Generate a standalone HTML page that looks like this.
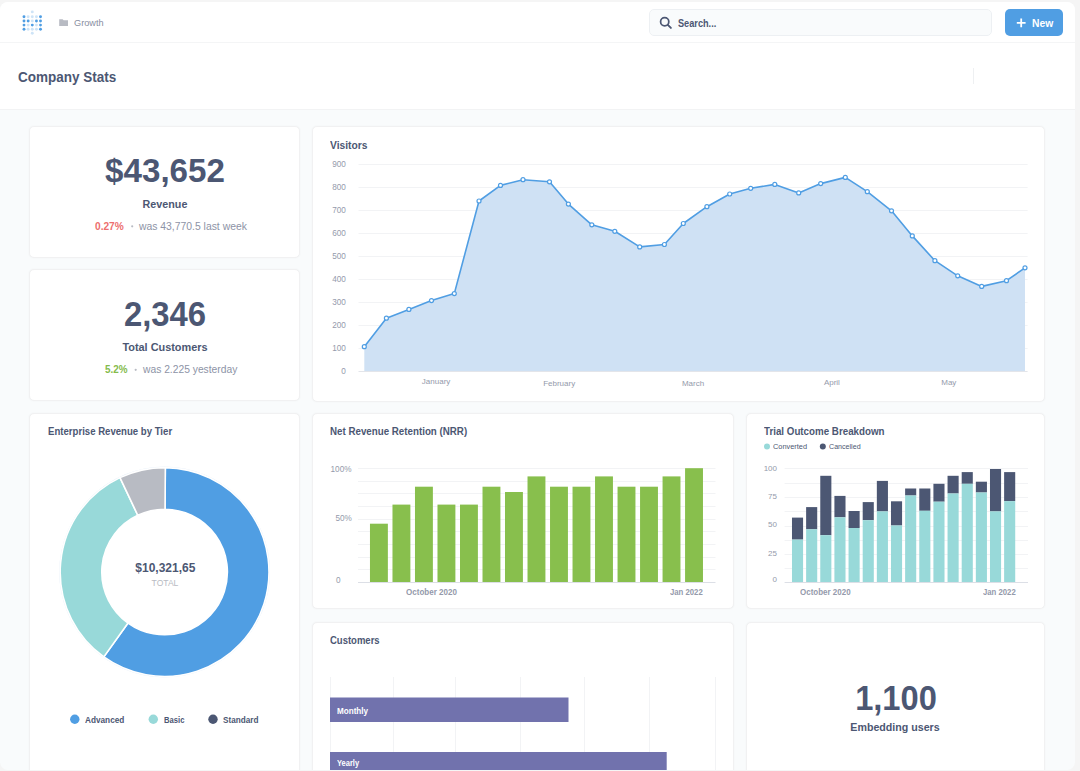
<!DOCTYPE html>
<html><head><meta charset="utf-8"><style>
html,body{margin:0;padding:0;}
body{width:1080px;height:771px;background:#f5f5f5;position:relative;overflow:hidden;font-family:"Liberation Sans",sans-serif;}
.win{position:absolute;left:0;top:2px;width:1075px;height:768px;border-radius:8px;overflow:hidden;background:#f9fbfc;}
.inner{position:absolute;left:0;top:-2px;width:1080px;height:771px;}
.t{position:absolute;line-height:1;white-space:nowrap;}
.card{position:absolute;box-sizing:border-box;background:#fff;border:1px solid #f1f1f2;border-radius:5px;box-shadow:0 0 2px rgba(0,0,0,0.045);}
.ov{position:absolute;left:0;top:0;}
</style></head><body>
<div class="win"><div class="inner">
<div style="position:absolute;left:0;top:0;width:1080px;height:42px;background:#fff;border-bottom:1px solid #f4f5f6"></div><div style="position:absolute;left:0;top:43px;width:1080px;height:66px;background:#fff;border-bottom:1px solid #f2f3f4"></div><div style="position:absolute;left:649px;top:9px;width:341px;height:25px;background:#f9fbfc;border:1px solid #edf0f3;border-radius:5px"></div><div style="position:absolute;left:1005px;top:9px;width:58px;height:27px;background:#509ee3;border-radius:5px"></div><div style="position:absolute;left:973px;top:68px;width:1px;height:16px;background:#eef0f2"></div><div class="card" style="left:29px;top:126px;width:271px;height:132px"></div><div class="card" style="left:29px;top:269px;width:271px;height:132px"></div><div class="card" style="left:312px;top:126px;width:733px;height:276px"></div><div class="card" style="left:29px;top:413px;width:271px;height:400px"></div><div class="card" style="left:312px;top:413px;width:422px;height:196px"></div><div class="card" style="left:746px;top:413px;width:299px;height:196px"></div><div class="card" style="left:312px;top:622px;width:422px;height:200px"></div><div class="card" style="left:746px;top:622px;width:299px;height:200px"></div>
<svg class="ov" width="1080" height="771"><circle cx="24.0" cy="16.75" r="1.45" fill="#509ee3" fill-opacity="1"/><circle cx="28.15" cy="16.75" r="1.45" fill="#509ee3" fill-opacity="0.28"/><circle cx="32.3" cy="16.75" r="1.45" fill="#509ee3" fill-opacity="0.28"/><circle cx="36.45" cy="16.75" r="1.45" fill="#509ee3" fill-opacity="0.28"/><circle cx="40.5" cy="16.75" r="1.45" fill="#509ee3" fill-opacity="1"/><circle cx="24.0" cy="20.95" r="1.45" fill="#509ee3" fill-opacity="1"/><circle cx="28.15" cy="20.95" r="1.45" fill="#509ee3" fill-opacity="1"/><circle cx="32.3" cy="20.95" r="1.45" fill="#509ee3" fill-opacity="0.28"/><circle cx="36.45" cy="20.95" r="1.45" fill="#509ee3" fill-opacity="1"/><circle cx="40.5" cy="20.95" r="1.45" fill="#509ee3" fill-opacity="1"/><circle cx="24.0" cy="25.1" r="1.45" fill="#509ee3" fill-opacity="1"/><circle cx="28.15" cy="25.1" r="1.45" fill="#509ee3" fill-opacity="0.28"/><circle cx="32.3" cy="25.1" r="1.45" fill="#509ee3" fill-opacity="1"/><circle cx="36.45" cy="25.1" r="1.45" fill="#509ee3" fill-opacity="0.28"/><circle cx="40.5" cy="25.1" r="1.45" fill="#509ee3" fill-opacity="1"/><circle cx="24.0" cy="29.2" r="1.45" fill="#509ee3" fill-opacity="1"/><circle cx="28.15" cy="29.2" r="1.45" fill="#509ee3" fill-opacity="0.28"/><circle cx="32.3" cy="29.2" r="1.45" fill="#509ee3" fill-opacity="0.28"/><circle cx="36.45" cy="29.2" r="1.45" fill="#509ee3" fill-opacity="0.28"/><circle cx="40.5" cy="29.2" r="1.45" fill="#509ee3" fill-opacity="1"/><circle cx="32.3" cy="11.9" r="1.45" fill="#509ee3" fill-opacity="0.28"/><circle cx="32.3" cy="33.3" r="1.45" fill="#509ee3" fill-opacity="0.28"/><path d="M59.2 19.2 h3.4 l1 1.1 h4.4 v5.6 h-8.8 z" fill="#b8bbc3"/><circle cx="664.7" cy="21.7" r="4.1" fill="none" stroke="#4c5773" stroke-width="1.75"/><line x1="667.8" y1="24.8" x2="670.9" y2="27.9" stroke="#4c5773" stroke-width="1.9" stroke-linecap="round"/><line x1="1021.2" y1="18.4" x2="1021.2" y2="27.2" stroke="#fff" stroke-width="1.8"/><line x1="1016.8" y1="22.8" x2="1025.6" y2="22.8" stroke="#fff" stroke-width="1.8"/></svg>
<svg class="ov" width="1080" height="771"><circle cx="132.2" cy="226.3" r="1.1" fill="#b8bbc3"/><circle cx="135.7" cy="369.8" r="1.1" fill="#b8bbc3"/><line x1="358.5" y1="164.50" x2="1027.6" y2="164.50" stroke="#f2f3f5" stroke-width="1"/><line x1="358.5" y1="187.50" x2="1027.6" y2="187.50" stroke="#f2f3f5" stroke-width="1"/><line x1="358.5" y1="210.50" x2="1027.6" y2="210.50" stroke="#f2f3f5" stroke-width="1"/><line x1="358.5" y1="233.50" x2="1027.6" y2="233.50" stroke="#f2f3f5" stroke-width="1"/><line x1="358.5" y1="256.50" x2="1027.6" y2="256.50" stroke="#f2f3f5" stroke-width="1"/><line x1="358.5" y1="279.50" x2="1027.6" y2="279.50" stroke="#f2f3f5" stroke-width="1"/><line x1="358.5" y1="302.50" x2="1027.6" y2="302.50" stroke="#f2f3f5" stroke-width="1"/><line x1="358.5" y1="325.50" x2="1027.6" y2="325.50" stroke="#f2f3f5" stroke-width="1"/><line x1="358.5" y1="348.50" x2="1027.6" y2="348.50" stroke="#f2f3f5" stroke-width="1"/><path d="M364.3 346.7 L386.4 318.2 L408.9 309.4 L431.5 300.6 L454.3 293.6 L479.0 201.0 L500.5 185.4 L523.0 179.7 L549.5 181.8 L568.4 204.1 L591.8 224.8 L614.8 231.3 L639.7 246.9 L664.4 244.5 L683.3 223.5 L706.9 206.7 L729.7 194.0 L750.7 188.3 L774.8 184.4 L798.7 192.9 L820.7 183.6 L845.3 177.4 L867.3 191.7 L891.5 210.8 L912.3 235.9 L934.9 260.7 L957.7 275.8 L981.7 286.4 L1006.5 280.7 L1025.0 267.8 L1025.0 371.5 L364.3 371.5 Z" fill="#cfe1f4"/><line x1="358.5" y1="371.5" x2="1027.6" y2="371.5" stroke="#e3e5ea" stroke-width="1"/><path d="M364.3 346.7 L386.4 318.2 L408.9 309.4 L431.5 300.6 L454.3 293.6 L479.0 201.0 L500.5 185.4 L523.0 179.7 L549.5 181.8 L568.4 204.1 L591.8 224.8 L614.8 231.3 L639.7 246.9 L664.4 244.5 L683.3 223.5 L706.9 206.7 L729.7 194.0 L750.7 188.3 L774.8 184.4 L798.7 192.9 L820.7 183.6 L845.3 177.4 L867.3 191.7 L891.5 210.8 L912.3 235.9 L934.9 260.7 L957.7 275.8 L981.7 286.4 L1006.5 280.7 L1025.0 267.8" fill="none" stroke="#509ee3" stroke-width="1.6" stroke-linejoin="round"/><circle cx="364.3" cy="346.7" r="2.0" fill="#fff" stroke="#509ee3" stroke-width="1.2"/><circle cx="386.4" cy="318.2" r="2.0" fill="#fff" stroke="#509ee3" stroke-width="1.2"/><circle cx="408.9" cy="309.4" r="2.0" fill="#fff" stroke="#509ee3" stroke-width="1.2"/><circle cx="431.5" cy="300.6" r="2.0" fill="#fff" stroke="#509ee3" stroke-width="1.2"/><circle cx="454.3" cy="293.6" r="2.0" fill="#fff" stroke="#509ee3" stroke-width="1.2"/><circle cx="479.0" cy="201.0" r="2.0" fill="#fff" stroke="#509ee3" stroke-width="1.2"/><circle cx="500.5" cy="185.4" r="2.0" fill="#fff" stroke="#509ee3" stroke-width="1.2"/><circle cx="523.0" cy="179.7" r="2.0" fill="#fff" stroke="#509ee3" stroke-width="1.2"/><circle cx="549.5" cy="181.8" r="2.0" fill="#fff" stroke="#509ee3" stroke-width="1.2"/><circle cx="568.4" cy="204.1" r="2.0" fill="#fff" stroke="#509ee3" stroke-width="1.2"/><circle cx="591.8" cy="224.8" r="2.0" fill="#fff" stroke="#509ee3" stroke-width="1.2"/><circle cx="614.8" cy="231.3" r="2.0" fill="#fff" stroke="#509ee3" stroke-width="1.2"/><circle cx="639.7" cy="246.9" r="2.0" fill="#fff" stroke="#509ee3" stroke-width="1.2"/><circle cx="664.4" cy="244.5" r="2.0" fill="#fff" stroke="#509ee3" stroke-width="1.2"/><circle cx="683.3" cy="223.5" r="2.0" fill="#fff" stroke="#509ee3" stroke-width="1.2"/><circle cx="706.9" cy="206.7" r="2.0" fill="#fff" stroke="#509ee3" stroke-width="1.2"/><circle cx="729.7" cy="194.0" r="2.0" fill="#fff" stroke="#509ee3" stroke-width="1.2"/><circle cx="750.7" cy="188.3" r="2.0" fill="#fff" stroke="#509ee3" stroke-width="1.2"/><circle cx="774.8" cy="184.4" r="2.0" fill="#fff" stroke="#509ee3" stroke-width="1.2"/><circle cx="798.7" cy="192.9" r="2.0" fill="#fff" stroke="#509ee3" stroke-width="1.2"/><circle cx="820.7" cy="183.6" r="2.0" fill="#fff" stroke="#509ee3" stroke-width="1.2"/><circle cx="845.3" cy="177.4" r="2.0" fill="#fff" stroke="#509ee3" stroke-width="1.2"/><circle cx="867.3" cy="191.7" r="2.0" fill="#fff" stroke="#509ee3" stroke-width="1.2"/><circle cx="891.5" cy="210.8" r="2.0" fill="#fff" stroke="#509ee3" stroke-width="1.2"/><circle cx="912.3" cy="235.9" r="2.0" fill="#fff" stroke="#509ee3" stroke-width="1.2"/><circle cx="934.9" cy="260.7" r="2.0" fill="#fff" stroke="#509ee3" stroke-width="1.2"/><circle cx="957.7" cy="275.8" r="2.0" fill="#fff" stroke="#509ee3" stroke-width="1.2"/><circle cx="981.7" cy="286.4" r="2.0" fill="#fff" stroke="#509ee3" stroke-width="1.2"/><circle cx="1006.5" cy="280.7" r="2.0" fill="#fff" stroke="#509ee3" stroke-width="1.2"/><circle cx="1025.0" cy="267.8" r="2.0" fill="#fff" stroke="#509ee3" stroke-width="1.2"/><circle cx="164.6" cy="572.0" r="104.9" fill="none" stroke="#e4eef9" stroke-width="1"/><path d="M165.33 467.60 A104.4 104.4 0 1 1 103.83 656.89 L128.04 623.06 A62.8 62.8 0 1 0 165.04 509.20 Z" fill="#509ee3" stroke="#fff" stroke-width="1.6" stroke-linejoin="round"/><path d="M103.83 656.89 A104.4 104.4 0 0 1 119.98 477.61 L137.76 515.22 A62.8 62.8 0 0 0 128.04 623.06 Z" fill="#98d9d9" stroke="#fff" stroke-width="1.6" stroke-linejoin="round"/><path d="M119.98 477.61 A104.4 104.4 0 0 1 165.33 467.60 L165.04 509.20 A62.8 62.8 0 0 0 137.76 515.22 Z" fill="#b8bbc3" stroke="#fff" stroke-width="1.6" stroke-linejoin="round"/><circle cx="74.8" cy="719.2" r="4.7" fill="#509ee3"/><circle cx="153.3" cy="719.2" r="4.7" fill="#98d9d9"/><circle cx="213.0" cy="719.2" r="4.7" fill="#4c5773"/><line x1="358" y1="468.50" x2="715.5" y2="468.50" stroke="#f2f3f5" stroke-width="1"/><line x1="358" y1="481.50" x2="715.5" y2="481.50" stroke="#f2f3f5" stroke-width="1"/><line x1="358" y1="493.50" x2="715.5" y2="493.50" stroke="#f2f3f5" stroke-width="1"/><line x1="358" y1="506.50" x2="715.5" y2="506.50" stroke="#f2f3f5" stroke-width="1"/><line x1="358" y1="519.50" x2="715.5" y2="519.50" stroke="#f2f3f5" stroke-width="1"/><line x1="358" y1="531.50" x2="715.5" y2="531.50" stroke="#f2f3f5" stroke-width="1"/><line x1="358" y1="544.50" x2="715.5" y2="544.50" stroke="#f2f3f5" stroke-width="1"/><line x1="358" y1="557.50" x2="715.5" y2="557.50" stroke="#f2f3f5" stroke-width="1"/><line x1="358" y1="569.50" x2="715.5" y2="569.50" stroke="#f2f3f5" stroke-width="1"/><line x1="358" y1="582.5" x2="715.5" y2="582.5" stroke="#dcdfe6" stroke-width="1"/><rect x="369.97" y="523.7" width="17.9" height="58.30" fill="#88bf4d"/><rect x="392.48" y="504.6" width="17.9" height="77.40" fill="#88bf4d"/><rect x="414.98" y="486.7" width="17.9" height="95.30" fill="#88bf4d"/><rect x="437.49" y="504.6" width="17.9" height="77.40" fill="#88bf4d"/><rect x="460.00" y="504.6" width="17.9" height="77.40" fill="#88bf4d"/><rect x="482.51" y="486.7" width="17.9" height="95.30" fill="#88bf4d"/><rect x="505.01" y="492.0" width="17.9" height="90.00" fill="#88bf4d"/><rect x="527.52" y="476.4" width="17.9" height="105.60" fill="#88bf4d"/><rect x="550.03" y="486.7" width="17.9" height="95.30" fill="#88bf4d"/><rect x="572.53" y="486.7" width="17.9" height="95.30" fill="#88bf4d"/><rect x="595.04" y="476.4" width="17.9" height="105.60" fill="#88bf4d"/><rect x="617.55" y="486.7" width="17.9" height="95.30" fill="#88bf4d"/><rect x="640.05" y="486.7" width="17.9" height="95.30" fill="#88bf4d"/><rect x="662.56" y="476.4" width="17.9" height="105.60" fill="#88bf4d"/><rect x="685.07" y="468.2" width="17.9" height="113.80" fill="#88bf4d"/><circle cx="767" cy="446.4" r="3" fill="#98d9d9"/><circle cx="822.8" cy="446.4" r="3" fill="#4c5773"/><line x1="784.6" y1="468.50" x2="1028" y2="468.50" stroke="#f2f3f5" stroke-width="1"/><line x1="784.6" y1="483.50" x2="1028" y2="483.50" stroke="#f2f3f5" stroke-width="1"/><line x1="784.6" y1="497.50" x2="1028" y2="497.50" stroke="#f2f3f5" stroke-width="1"/><line x1="784.6" y1="511.50" x2="1028" y2="511.50" stroke="#f2f3f5" stroke-width="1"/><line x1="784.6" y1="526.50" x2="1028" y2="526.50" stroke="#f2f3f5" stroke-width="1"/><line x1="784.6" y1="540.50" x2="1028" y2="540.50" stroke="#f2f3f5" stroke-width="1"/><line x1="784.6" y1="554.50" x2="1028" y2="554.50" stroke="#f2f3f5" stroke-width="1"/><line x1="784.6" y1="568.50" x2="1028" y2="568.50" stroke="#f2f3f5" stroke-width="1"/><line x1="784.6" y1="582.5" x2="1028" y2="582.5" stroke="#dcdfe6" stroke-width="1"/><rect x="791.98" y="517.6" width="11.1" height="22.00" fill="#4c5773"/><rect x="791.98" y="539.6" width="11.1" height="42.40" fill="#98d9d9"/><rect x="806.12" y="507.1" width="11.1" height="22.20" fill="#4c5773"/><rect x="806.12" y="529.3" width="11.1" height="52.70" fill="#98d9d9"/><rect x="820.27" y="475.8" width="11.1" height="59.40" fill="#4c5773"/><rect x="820.27" y="535.2" width="11.1" height="46.80" fill="#98d9d9"/><rect x="834.41" y="495.9" width="11.1" height="21.40" fill="#4c5773"/><rect x="834.41" y="517.3" width="11.1" height="64.70" fill="#98d9d9"/><rect x="848.55" y="511.0" width="11.1" height="17.00" fill="#4c5773"/><rect x="848.55" y="528.0" width="11.1" height="54.00" fill="#98d9d9"/><rect x="862.70" y="502.1" width="11.1" height="18.10" fill="#4c5773"/><rect x="862.70" y="520.2" width="11.1" height="61.80" fill="#98d9d9"/><rect x="876.84" y="480.9" width="11.1" height="30.50" fill="#4c5773"/><rect x="876.84" y="511.4" width="11.1" height="70.60" fill="#98d9d9"/><rect x="890.98" y="501.3" width="11.1" height="24.20" fill="#4c5773"/><rect x="890.98" y="525.5" width="11.1" height="56.50" fill="#98d9d9"/><rect x="905.12" y="488.5" width="11.1" height="7.00" fill="#4c5773"/><rect x="905.12" y="495.5" width="11.1" height="86.50" fill="#98d9d9"/><rect x="919.27" y="488.5" width="11.1" height="22.30" fill="#4c5773"/><rect x="919.27" y="510.8" width="11.1" height="71.20" fill="#98d9d9"/><rect x="933.41" y="483.8" width="11.1" height="17.90" fill="#4c5773"/><rect x="933.41" y="501.7" width="11.1" height="80.30" fill="#98d9d9"/><rect x="947.55" y="475.8" width="11.1" height="17.70" fill="#4c5773"/><rect x="947.55" y="493.5" width="11.1" height="88.50" fill="#98d9d9"/><rect x="961.70" y="472.1" width="11.1" height="11.70" fill="#4c5773"/><rect x="961.70" y="483.8" width="11.1" height="98.20" fill="#98d9d9"/><rect x="975.84" y="481.7" width="11.1" height="10.80" fill="#4c5773"/><rect x="975.84" y="492.5" width="11.1" height="89.50" fill="#98d9d9"/><rect x="989.98" y="469.0" width="11.1" height="42.40" fill="#4c5773"/><rect x="989.98" y="511.4" width="11.1" height="70.60" fill="#98d9d9"/><rect x="1004.12" y="472.1" width="11.1" height="29.00" fill="#4c5773"/><rect x="1004.12" y="501.1" width="11.1" height="80.90" fill="#98d9d9"/><line x1="330.5" y1="677" x2="330.5" y2="771" stroke="#f2f3f5" stroke-width="1"/><line x1="393.5" y1="677" x2="393.5" y2="771" stroke="#f2f3f5" stroke-width="1"/><line x1="455.5" y1="677" x2="455.5" y2="771" stroke="#f2f3f5" stroke-width="1"/><line x1="520.5" y1="677" x2="520.5" y2="771" stroke="#f2f3f5" stroke-width="1"/><line x1="584.5" y1="677" x2="584.5" y2="771" stroke="#f2f3f5" stroke-width="1"/><line x1="649.5" y1="677" x2="649.5" y2="771" stroke="#f2f3f5" stroke-width="1"/><line x1="715.5" y1="677" x2="715.5" y2="771" stroke="#f2f3f5" stroke-width="1"/><rect x="330" y="697.5" width="238.5" height="24.5" fill="#7172ad"/><rect x="330" y="752" width="336.7" height="30" fill="#7172ad"/></svg>
<div class="t" style="top:18.47px;font-size:9.6px;font-weight:400;color:#888ea1;left:74.40px;transform:scaleX(0.957);transform-origin:0 0;">Growth</div><div class="t" style="top:17.66px;font-size:10.8px;font-weight:700;color:#4c5773;left:677.60px;transform:scaleX(0.85);transform-origin:0 0;">Search...</div><div class="t" style="top:17.96px;font-size:10.8px;font-weight:700;color:#fff;left:1032.20px;transform:scaleX(0.955);transform-origin:0 0;">New</div><div class="t" style="top:68.60px;font-size:15px;font-weight:700;color:#4c5773;left:17.60px;transform:scaleX(0.9);transform-origin:0 0;">Company Stats</div><div class="t" style="top:153.42px;font-size:34px;font-weight:700;color:#4c5773;left:-235.40px;width:800px;text-align:center;transform:scaleX(0.975);transform-origin:50% 0;">$43,652</div><div class="t" style="top:198.97px;font-size:11.5px;font-weight:700;color:#4c5773;left:-235.00px;width:800px;text-align:center;transform:scaleX(0.934);transform-origin:50% 0;">Revenue</div><div class="t" style="top:221.60px;font-size:10.4px;font-weight:700;color:#ed6e6e;left:95.40px;transform:scaleX(0.976);transform-origin:0 0;">0.27%</div><div class="t" style="top:221.60px;font-size:10.4px;font-weight:400;color:#8d93a6;left:138.90px;">was 43,770.5 last week</div><div class="t" style="top:296.58px;font-size:34.4px;font-weight:700;color:#4c5773;left:-235.25px;width:800px;text-align:center;transform:scaleX(0.955);transform-origin:50% 0;">2,346</div><div class="t" style="top:341.97px;font-size:11.5px;font-weight:700;color:#4c5773;left:-235.00px;width:800px;text-align:center;transform:scaleX(0.948);transform-origin:50% 0;">Total Customers</div><div class="t" style="top:365.00px;font-size:10.4px;font-weight:700;color:#84bb4c;left:105.20px;transform:scaleX(0.95);transform-origin:0 0;">5.2%</div><div class="t" style="top:365.00px;font-size:10.4px;font-weight:400;color:#8d93a6;left:142.70px;transform:scaleX(0.99);transform-origin:0 0;">was 2.225 yesterday</div><div class="t" style="top:139.63px;font-size:10.6px;font-weight:700;color:#4c5773;left:330.30px;transform:scaleX(0.97);transform-origin:0 0;">Visitors</div><div class="t" style="top:160.76px;font-size:8.2px;font-weight:400;color:#949aab;left:-54.20px;width:400px;text-align:right;">900</div><div class="t" style="top:183.76px;font-size:8.2px;font-weight:400;color:#949aab;left:-54.20px;width:400px;text-align:right;">800</div><div class="t" style="top:206.76px;font-size:8.2px;font-weight:400;color:#949aab;left:-54.20px;width:400px;text-align:right;">700</div><div class="t" style="top:229.76px;font-size:8.2px;font-weight:400;color:#949aab;left:-54.20px;width:400px;text-align:right;">600</div><div class="t" style="top:252.76px;font-size:8.2px;font-weight:400;color:#949aab;left:-54.20px;width:400px;text-align:right;">500</div><div class="t" style="top:275.76px;font-size:8.2px;font-weight:400;color:#949aab;left:-54.20px;width:400px;text-align:right;">400</div><div class="t" style="top:298.76px;font-size:8.2px;font-weight:400;color:#949aab;left:-54.20px;width:400px;text-align:right;">300</div><div class="t" style="top:321.76px;font-size:8.2px;font-weight:400;color:#949aab;left:-54.20px;width:400px;text-align:right;">200</div><div class="t" style="top:344.76px;font-size:8.2px;font-weight:400;color:#949aab;left:-54.20px;width:400px;text-align:right;">100</div><div class="t" style="top:367.76px;font-size:8.2px;font-weight:400;color:#949aab;left:-54.20px;width:400px;text-align:right;">0</div><div class="t" style="top:378.43px;font-size:8.0px;font-weight:400;color:#949aab;left:36.10px;width:800px;text-align:center;">January</div><div class="t" style="top:379.83px;font-size:8.0px;font-weight:400;color:#949aab;left:159.20px;width:800px;text-align:center;">February</div><div class="t" style="top:379.83px;font-size:8.0px;font-weight:400;color:#949aab;left:293.00px;width:800px;text-align:center;">March</div><div class="t" style="top:378.53px;font-size:8.0px;font-weight:400;color:#949aab;left:431.90px;width:800px;text-align:center;">April</div><div class="t" style="top:378.53px;font-size:8.0px;font-weight:400;color:#949aab;left:548.80px;width:800px;text-align:center;">May</div><div class="t" style="top:425.83px;font-size:10.6px;font-weight:700;color:#4c5773;left:47.50px;transform:scaleX(0.906);transform-origin:0 0;">Enterprise Revenue by Tier</div><div class="t" style="top:562.04px;font-size:12.0px;font-weight:700;color:#4c5773;left:-234.70px;width:800px;text-align:center;">$10,321,65</div><div class="t" style="top:578.71px;font-size:9.2px;font-weight:400;color:#b8bbc3;left:-235.15px;width:800px;text-align:center;transform:scaleX(0.93);transform-origin:50% 0;">TOTAL</div><div class="t" style="top:715.92px;font-size:8.6px;font-weight:700;color:#4c5773;left:85.30px;transform:scaleX(0.957);transform-origin:0 0;">Advanced</div><div class="t" style="top:715.92px;font-size:8.6px;font-weight:700;color:#4c5773;left:164.00px;transform:scaleX(0.889);transform-origin:0 0;">Basic</div><div class="t" style="top:715.92px;font-size:8.6px;font-weight:700;color:#4c5773;left:223.30px;transform:scaleX(0.95);transform-origin:0 0;">Standard</div><div class="t" style="top:426.13px;font-size:10.6px;font-weight:700;color:#4c5773;left:330.30px;transform:scaleX(0.921);transform-origin:0 0;">Net Revenue Retention (NRR)</div><div class="t" style="top:465.86px;font-size:8.2px;font-weight:400;color:#949aab;left:-48.50px;width:400px;text-align:right;">100%</div><div class="t" style="top:515.26px;font-size:8.2px;font-weight:400;color:#949aab;left:-48.20px;width:400px;text-align:right;">50%</div><div class="t" style="top:576.96px;font-size:8.2px;font-weight:400;color:#949aab;left:336.00px;">0</div><div class="t" style="top:588.32px;font-size:8.6px;font-weight:700;color:#949aab;left:406.30px;transform:scaleX(0.936);transform-origin:0 0;">October 2020</div><div class="t" style="top:588.32px;font-size:8.6px;font-weight:700;color:#949aab;left:669.80px;transform:scaleX(0.9);transform-origin:0 0;">Jan 2022</div><div class="t" style="top:425.63px;font-size:10.6px;font-weight:700;color:#4c5773;left:764.00px;transform:scaleX(0.922);transform-origin:0 0;">Trial Outcome Breakdown</div><div class="t" style="top:442.81px;font-size:7.9px;font-weight:400;color:#4c5773;left:773.10px;transform:scaleX(0.935);transform-origin:0 0;">Converted</div><div class="t" style="top:442.81px;font-size:7.9px;font-weight:400;color:#4c5773;left:829.00px;transform:scaleX(0.9);transform-origin:0 0;">Cancelled</div><div class="t" style="top:464.63px;font-size:8.0px;font-weight:400;color:#949aab;left:377.00px;width:400px;text-align:right;">100</div><div class="t" style="top:492.83px;font-size:8.0px;font-weight:400;color:#949aab;left:377.00px;width:400px;text-align:right;">75</div><div class="t" style="top:521.43px;font-size:8.0px;font-weight:400;color:#949aab;left:377.00px;width:400px;text-align:right;">50</div><div class="t" style="top:549.83px;font-size:8.0px;font-weight:400;color:#949aab;left:377.00px;width:400px;text-align:right;">25</div><div class="t" style="top:575.63px;font-size:8.0px;font-weight:400;color:#949aab;left:377.00px;width:400px;text-align:right;">0</div><div class="t" style="top:587.92px;font-size:8.6px;font-weight:700;color:#949aab;left:800.10px;transform:scaleX(0.93);transform-origin:0 0;">October 2020</div><div class="t" style="top:587.92px;font-size:8.6px;font-weight:700;color:#949aab;left:982.70px;transform:scaleX(0.9);transform-origin:0 0;">Jan 2022</div><div class="t" style="top:634.83px;font-size:10.6px;font-weight:700;color:#4c5773;left:330.00px;transform:scaleX(0.897);transform-origin:0 0;">Customers</div><div class="t" style="top:706.62px;font-size:8.6px;font-weight:700;color:#fff;left:336.50px;transform:scaleX(0.944);transform-origin:0 0;">Monthly</div><div class="t" style="top:759.42px;font-size:8.6px;font-weight:700;color:#fff;left:336.90px;transform:scaleX(0.87);transform-origin:0 0;">Yearly</div><div class="t" style="top:680.75px;font-size:34.2px;font-weight:700;color:#4c5773;left:495.55px;width:800px;text-align:center;transform:scaleX(0.955);transform-origin:50% 0;">1,100</div><div class="t" style="top:722.07px;font-size:11.5px;font-weight:700;color:#4c5773;left:495.40px;width:800px;text-align:center;transform:scaleX(0.926);transform-origin:50% 0;">Embedding users</div>
</div></div>
</body></html>
